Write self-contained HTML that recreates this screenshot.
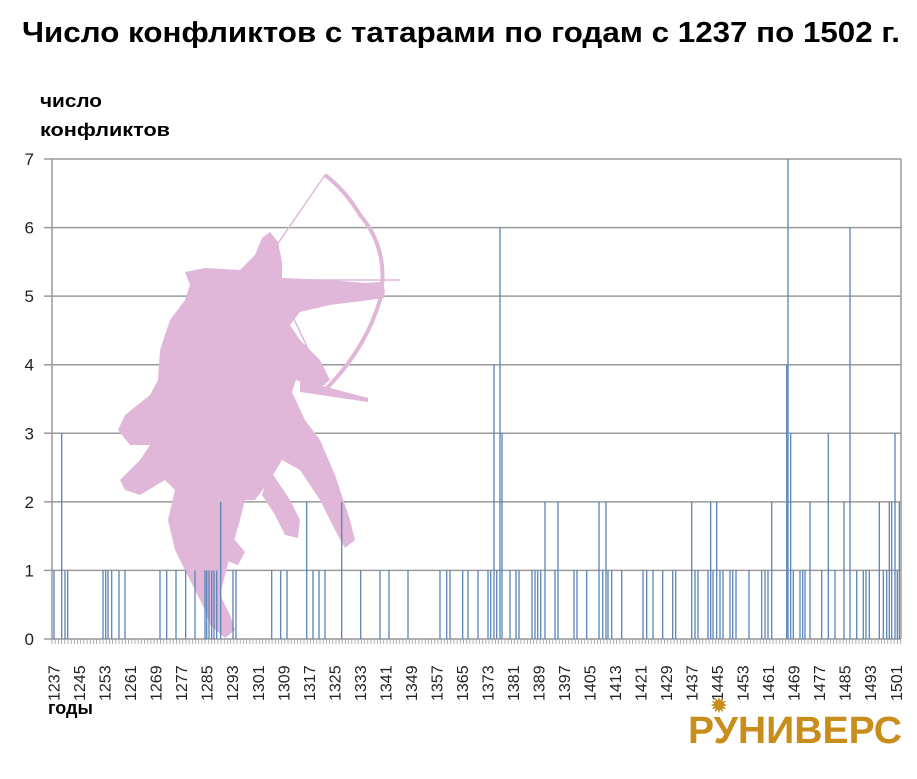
<!DOCTYPE html>
<html><head><meta charset="utf-8"><style>
body{margin:0;background:#fff;width:917px;height:774px;overflow:hidden}
</style></head><body>
<svg id="s" width="917" height="774" xmlns="http://www.w3.org/2000/svg" font-family="Liberation Sans, DejaVu Sans, sans-serif">
<text x="22" y="42" font-size="29" font-weight="bold" fill="#000" textLength="878" lengthAdjust="spacingAndGlyphs">Число конфликтов с татарами по годам с 1237 по 1502 г.</text>
<text x="40" y="107" font-size="18" font-weight="bold" textLength="62" lengthAdjust="spacingAndGlyphs">число</text>
<text x="40" y="136" font-size="18" font-weight="bold" textLength="130" lengthAdjust="spacingAndGlyphs">конфликтов</text>
<text x="48" y="714" font-size="18" font-weight="bold">годы</text>
<g id="grid"></g>
<g fill="#e0b7d8">
<path d="M185,272 L205,268 L240,270 L255,255 L262,238 L270,232 L278,242 L282,262 L282,278 L330,280 L365,283 L380,282 L385,290 L384,298 L370,300 L330,305 L300,312 L290,325 L300,340 L320,360 L330,380 L320,388 L296,380 L292,392 L305,420 L320,440 L335,475 L350,520 L355,540 L345,548 L335,530 L320,500 L300,470 L282,460 L270,480 L255,500 L245,500 L240,520 L230,555 L225,575 L220,595 L230,615 L235,630 L225,638 L210,625 L205,610 L190,580 L175,550 L168,520 L175,490 L165,480 L140,495 L125,490 L120,480 L140,460 L150,445 L130,445 L118,430 L125,415 L150,395 L158,380 L160,350 L170,320 L185,300 L190,285 Z"/>
<path d="M270,470 L290,500 L300,520 L298,538 L285,535 L275,515 L262,495 Z"/>
<path d="M220,520 L235,540 L245,552 L238,565 L225,560 L215,540 Z"/>
<path d="M300,380 L368,398 L368,402 L300,392 Z"/>
</g>
<path d="M325,175 Q345,190 360,215 Q390,250 380,300 Q365,350 325,390" fill="none" stroke="#e0b7d8" stroke-width="4"/>
<path d="M325,175 L270,255 M280,280 L400,280 M285,300 L325,385" fill="none" stroke="#e0b7d8" stroke-width="1.5"/>
<g id="bars"></g>
<g id="ticks"></g>
<g id="xl" font-size="16" fill="#222"></g>
<text x="688" y="743" font-size="38" font-weight="bold" fill="#c98d1c" textLength="214" lengthAdjust="spacingAndGlyphs">РУНИВЕРС</text>
<text x="719" y="713" font-size="22" fill="#c98d1c" text-anchor="middle">✹</text>
</svg>
<script>
var NS="http://www.w3.org/2000/svg";
function el(p,t,a,tx){var e=document.createElementNS(NS,t);for(var k in a)e.setAttribute(k,a[k]);if(tx)e.textContent=tx;document.getElementById(p).appendChild(e);}
var y0=639,u=68.57;
for(var i=0;i<=7;i++){var y=y0-u*i;el("grid","line",{x1:44,x2:901,y1:y,y2:y,stroke:"#9a9a9a","stroke-width":1.5});
el("grid","text",{x:34,y:y+6,"font-size":17,"text-anchor":"end",fill:"#222"},""+i);}
el("grid","line",{x1:52,x2:52,y1:159,y2:639,stroke:"#9a9a9a","stroke-width":1.5});
el("grid","line",{x1:901,x2:901,y1:159,y2:639,stroke:"#9a9a9a","stroke-width":1.5});
var b=[[54,1],[61.7,3],[65,1],[67.7,1],[103,1],[105.7,1],[108,1],[111.7,1],[119,1],[125,1],[160,1],[166.7,1],[176,1],[185.7,1],[195,1],[205,1],[206.7,1],[209,1],[211.7,1],[214,1],[216.7,1],[220.7,2],[233,1],[236,1],[271.7,1],[280.7,1],[287,1],[306.7,2],[313,1],[319,1],[325,1],[341.7,2],[360.7,1],[380,1],[389,1],[408,1],[440,1],[446.7,1],[450,1],[462.7,1],[468,1],[478,1],[488,1],[490.7,1],[494,4],[496.7,1],[500,6],[502,3],[510,1],[516,1],[519,1],[532,1],[535,1],[537.7,1],[540.7,1],[545,2],[555,1],[558,2],[574,1],[577,1],[586.7,1],[599,2],[602.7,1],[606,2],[608,1],[611.7,1],[621.7,1],[643,1],[646.7,1],[653,1],[662.7,1],[672.7,1],[675.7,1],[691.7,2],[695,1],[698,1],[708,1],[710.7,2],[713,1],[716.7,2],[720,1],[723,1],[730,1],[732.7,1],[736,1],[749,1],[761.7,1],[765,1],[768,1],[771.7,2],[786.7,4],[788,7],[790.7,3],[793.3,1],[800,1],[802.7,1],[805,1],[810,2],[821.7,1],[828.3,3],[835,1],[844,2],[850,6],[856.7,1],[863.3,1],[866,1],[869.3,1],[879.3,2],[883.3,1],[886.7,1],[889.3,2],[891.7,2],[895,3],[897.3,1],[899.3,2]];
b.forEach(function(d){el("bars","line",{x1:d[0],x2:d[0],y1:y0,y2:y0-u*d[1],stroke:"#5b84b8","stroke-width":1.3});});
for(var k=0;k<=266;k++){var x=52+k*3.19;el("ticks","line",{x1:x,x2:x,y1:639,y2:644,stroke:"#9a9a9a","stroke-width":0.8});}
for(var j=0;j<=33;j++){var yr=1237+8*j,x=52+(8*j+0.5)*3.19+6;el("xl","text",{transform:"translate("+x+",701) rotate(-90)"},""+yr);}
</script>
</body></html>
